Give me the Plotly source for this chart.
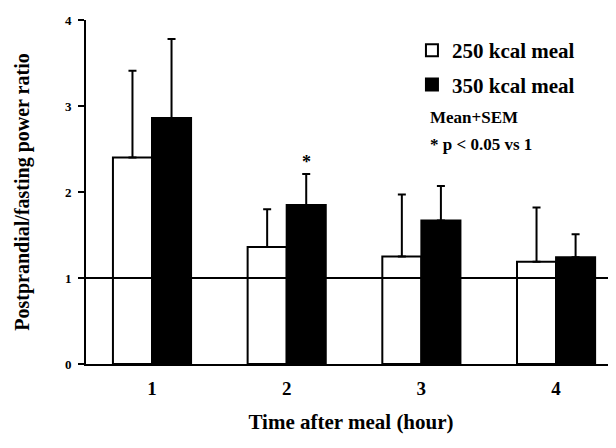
import plotly.graph_objects as go

hours = [1, 2, 3, 4]
tick_labels = ["1", "2", "3", "4"]
mean_250 = [2.40, 1.36, 1.25, 1.19]
err_250 = [1.01, 0.44, 0.72, 0.63]
mean_350 = [2.86, 1.85, 1.67, 1.24]
err_350 = [0.92, 0.36, 0.40, 0.27]
sig_marks = ["", "*", "", ""]
y_ticks = [0, 1, 2, 3, 4]
series_names = ["250 kcal meal", "350 kcal meal"]
notes = ["Mean+SEM", "* p < 0.05 vs 1"]

FONT = "Liberation Serif"
BAR_W = 0.29

fig = go.Figure()
fig.add_trace(go.Bar(
    x=hours, y=mean_250, name=series_names[0], legendgroup="a",
    marker=dict(color="white", line=dict(color="black", width=2)),
    error_y=dict(type="data", array=err_250, arrayminus=[0] * 4, symmetric=False,
                 color="black", thickness=2, width=4),
))
fig.add_trace(go.Bar(
    x=hours, y=mean_350, name=series_names[1], legendgroup="b",
    marker=dict(color="black", line=dict(color="black", width=2)),
    error_y=dict(type="data", array=err_350, arrayminus=[0] * 4, symmetric=False,
                 color="black", thickness=2, width=4),
))

for h, m, e, s in zip(hours, mean_350, err_350, sig_marks):
    if s:
        fig.add_annotation(x=h + BAR_W / 2, y=m + e, text=s, showarrow=False,
                           yanchor="bottom", yshift=0,
                           font=dict(family=FONT, size=18, color="black", weight="bold"))

fig.add_shape(type="line", xref="paper", yref="y", x0=-0.012, x1=1, y0=1, y1=1,
              line=dict(color="black", width=2), layer="above")

for i, t in enumerate(notes):
    fig.add_annotation(xref="paper", yref="paper", x=0.645, y=[0.718, 0.637][i],
                       text=t, showarrow=False, xanchor="left", yanchor="middle",
                       font=dict(family=FONT, size=17, color="black", weight="bold"))

# page body has an 8px margin, so the figure is sized/offset to compensate
fig.update_layout(
    width=608, height=440,
    margin=dict(l=78, r=0, t=12, b=84),
    plot_bgcolor="white", paper_bgcolor="white",
    barmode="group", bargap=1 - 2 * BAR_W, bargroupgap=0,
    font=dict(family=FONT, color="black", weight="bold"),
    legend=dict(x=0.615, y=0.971, xanchor="left", yanchor="top",
                font=dict(family=FONT, size=21, color="black", weight="bold"),
                bgcolor="rgba(0,0,0,0)", tracegroupgap=4, itemwidth=30),
    xaxis=dict(range=[0.51, 4.445], tickvals=hours, ticktext=tick_labels,
               showline=True, linecolor="black", linewidth=2, ticks="",
               showgrid=False, zeroline=False, ticklabelstandoff=6,
               tickfont=dict(family=FONT, size=19, color="black", weight="bold"),
               title=dict(text="Time after meal (hour)", standoff=17,
                          font=dict(family=FONT, size=21, color="black", weight="bold"))),
    yaxis=dict(range=[0, 4], tickvals=y_ticks, showline=True, linecolor="black",
               linewidth=2, ticks="outside", ticklen=6, tickwidth=2, tickcolor="black",
               showgrid=False, zeroline=False, ticklabelstandoff=4,
               tickfont=dict(family=FONT, size=13, color="black", weight="bold"),
               title=dict(text="Postprandial/fasting power ratio", standoff=30,
                          font=dict(family=FONT, size=20, color="black", weight="bold"))),
)

fig.write_html("out.html")
